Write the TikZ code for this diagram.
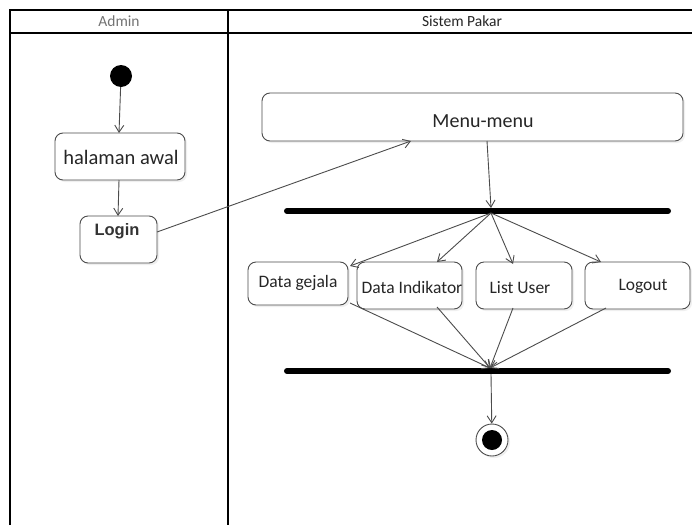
\documentclass[tikz,border=0pt]{standalone}
\usepackage{fontspec}
\setmainfont{Carlito}
\newfontfamily\loginfont{Liberation Sans}
\usetikzlibrary{arrows.meta,shadows}
\begin{document}
\begin{tikzpicture}[x=1pt,y=-1pt,
  flow/.style={draw=black!70, line width=0.9pt, -{Straight Barb[length=7pt,width=9pt]}},
  act/.style={draw=black!70, line width=0.9pt, rounded corners=8pt, fill=white,
    drop shadow={shadow xshift=2pt,shadow yshift=-2pt,fill=black!12}},
  bar/.style={line width=6pt, line cap=round, black},
  lane/.style={draw=black, line width=1.3pt},
  lbl/.style={font=\fontsize{17.5}{19}\selectfont, text=black!85}]
\useasboundingbox (0,0) rectangle (692,525);
\fill[white] (0,0) rectangle (692,525);

% swimlanes
\draw[lane] (10,525) -- (10,10) -- (692,10);
\draw[lane] (10,33) -- (692,33);
\draw[lane] (228,10) -- (228,525);
\node[font=\fontsize{15.5}{17}\selectfont, text=black!55] (hadmin) at (119,21) {Admin};
\node[font=\fontsize{15.5}{17}\selectfont, text=black!85] (hsis) at (462,21) {Sistem Pakar};

% admin lane
\node[circle, fill=black, minimum size=22pt, inner sep=0pt] (start) at (121,76) {};
\draw[act] (55,133) rectangle (185,180);
\node[font=\fontsize{20.5}{22}\selectfont, text=black!85] (awal) at (121,157) {halaman awal};
\coordinate (awalT) at (119,133);
\coordinate (awalB) at (119,180);
\draw[act] (80,216) rectangle (157,263);
\node[font=\loginfont\bfseries\fontsize{16.5}{18}\selectfont, text=black!80] (login) at (117,231) {Login};
\coordinate (loginT) at (118,216);
\coordinate (loginR) at (157,232);

% system lane
\draw[act] (262,93) rectangle (683,141);
\node[font=\fontsize{20}{22}\selectfont, text=black!85] (menu) at (483,121) {Menu-menu};
\coordinate (menuIn) at (411,141);
\coordinate (menuOut) at (487,141);

\draw[bar] (287,211) -- (668,211);
\coordinate (forkT) at (491,208);
\coordinate (fork) at (491,213);

\draw[act] (248,262) rectangle (348,305);
\node[lbl] (gejala) at (298,283) {Data gejala};
\draw[act] (357,262) rectangle (462,309);
\node[lbl] (indik) at (412,287) {Data Indikator};
\draw[act] (476,262) rectangle (572,309);
\node[lbl] (user) at (520,288) {List User};
\draw[act] (585,262) rectangle (690,309);
\node[lbl] (logout) at (643,286) {Logout};

\draw[bar] (287,371) -- (668,371);
\coordinate (joinT) at (490,368);
\coordinate (joinB) at (491,374);

\node[circle, draw=black!70, line width=0.9pt, fill=white, minimum size=32pt, inner sep=0pt,
  drop shadow={shadow xshift=2pt,shadow yshift=-2pt,fill=black!12}] (endo) at (492,440) {};
\node[circle, fill=black, minimum size=20pt, inner sep=0pt] (endi) at (endo) {};

% transitions
\draw[flow] (start) -- (awalT);
\draw[flow] (awalB) -- (loginT);
\draw[flow] (loginR) -- (menuIn);
\draw[flow] (menuOut) -- (forkT);
\draw[flow] (fork) -- (350,266);
\draw[flow] (fork) -- (437,262);
\draw[flow] (fork) -- (513,264);
\draw[flow] (fork) -- (601,262);
\draw[flow] (350,303) -- (joinT);
\draw[flow] (437,307) -- (joinT);
\draw[flow] (513,308) -- (joinT);
\draw[flow] (606,308) -- (joinT);
\draw[flow] (joinB) -- (endo);
\end{tikzpicture}
\end{document}
